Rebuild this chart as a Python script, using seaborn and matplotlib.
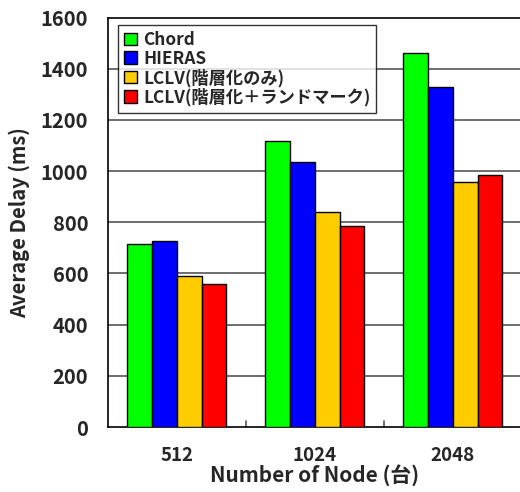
import matplotlib
matplotlib.use("Agg")
import matplotlib.pyplot as plt
import seaborn as sns
import pandas as pd

# Node counts and the average delay (ms) measured for each method
nodes = ["512", "1024", "2048"]
methods = ["Chord", "HIERAS", "LCLV(階層化のみ)", "LCLV(階層化＋ランドマーク)"]
chord = [717, 1118, 1462]
hieras = [725, 1034, 1329]
lclv_layer = [591, 841, 956]
lclv_landmark = [557, 784, 985]
colors = ["#00FF00", "#0000FF", "#FFCC00", "#FF0000"]
yticks = [0, 200, 400, 600, 800, 1000, 1200, 1400, 1600]

rows = []
for m, vals in zip(methods, [chord, hieras, lclv_layer, lclv_landmark]):
    for n, v in zip(nodes, vals):
        rows.append({"nodes": n, "method": m, "delay": v})
df = pd.DataFrame(rows)

sns.set_theme(style="white")
fonts = ["Noto Sans CJK JP", "DejaVu Sans"]
plt.rcParams["font.family"] = fonts
plt.rcParams["font.weight"] = "bold"

fig = plt.figure(figsize=(5.2, 4.92), dpi=100)
ax = fig.add_axes([0.2071, 0.1321, 0.7962, 0.8323])

sns.barplot(data=df, x="nodes", y="delay", hue="method", order=nodes,
            hue_order=methods, palette=colors, width=0.72, gap=0,
            edgecolor="black", linewidth=1.0, saturation=1, ax=ax,
            legend=True, zorder=3)

ax.set_ylim(0, 1600)
ax.set_xlim(-0.5, 2.5)
ax.set_yticks(yticks)
ax.set_yticklabels([str(t) for t in yticks], fontsize=14.5, fontweight="bold")
ax.set_xticks([0, 1, 2])
ax.set_xticklabels(nodes, fontsize=13.5, fontweight="bold")
ax.tick_params(axis="y", length=0, pad=14)
ax.tick_params(axis="x", length=0, pad=14)

# horizontal grid lines
for t in yticks[1:-1]:
    ax.axhline(t, color="#555555", linewidth=1.2, zorder=1)
# small inward ticks between categories
for xb in [0.5, 1.5]:
    ax.plot([xb, xb], [0, 22], color="#555555", linewidth=1.2, zorder=2)

for s in ax.spines.values():
    s.set_color("black")
    s.set_linewidth(1.2)

ax.set_xlabel("Number of Node (台)", fontsize=15, fontweight="bold", labelpad=-1)
ax.set_ylabel("Average Delay (ms)", fontsize=14.5, fontweight="bold", labelpad=8)

leg = ax.legend(loc="upper left", bbox_to_anchor=(0.025, 0.982),
                frameon=True, fancybox=False, edgecolor="black",
                handlelength=0.75, handleheight=0.75, handletextpad=0.35,
                labelspacing=0.05, borderpad=0.35, borderaxespad=0,
                prop={"family": fonts, "weight": "bold", "size": 12.4})
leg.get_frame().set_linewidth(1.0)
leg.set_zorder(5)

fig.savefig("out.png", dpi=100)
